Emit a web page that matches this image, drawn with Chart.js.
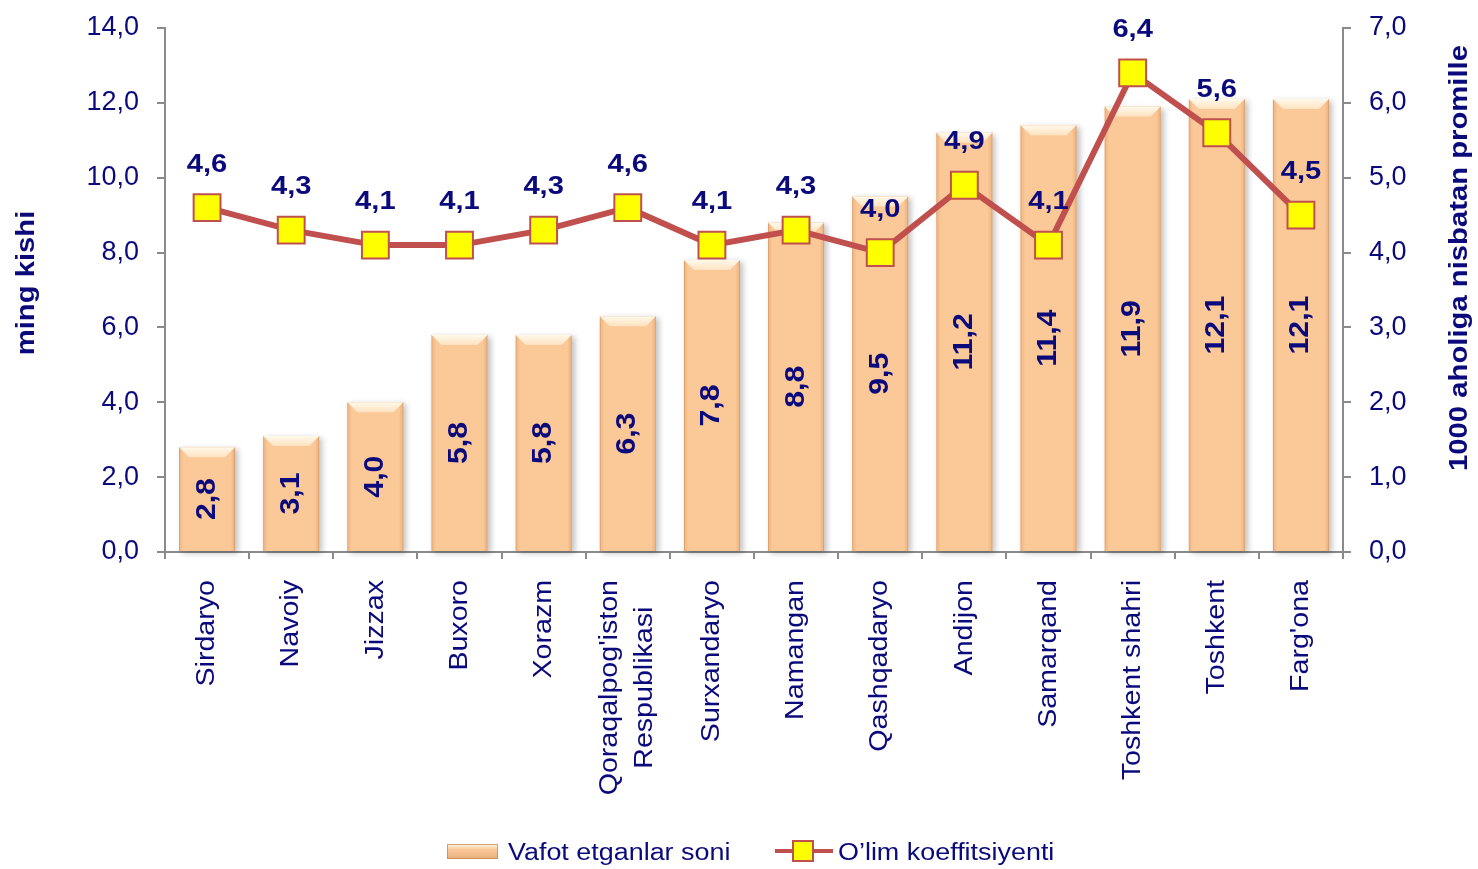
<!DOCTYPE html>
<html>
<head>
<meta charset="utf-8">
<script src="https://cdn.jsdelivr.net/npm/chart.js@4.4.1/dist/chart.umd.min.js"></script>
<style>
  html, body { margin: 0; padding: 0; background: #fff; }
  #wrap { width: 1478px; height: 869px; }
</style>
</head>
<body>
<div id="wrap"><canvas id="chart"></canvas></div>
<script>
// --- DATA ---
const regions = [
  'Sirdaryo', 'Navoiy', 'Jizzax', 'Buxoro', 'Xorazm',
  ["Qoraqalpog'iston", 'Respublikasi'],
  'Surxandaryo', 'Namangan', 'Qashqadaryo', 'Andijon',
  'Samarqand', 'Toshkent shahri', 'Toshkent', "Farg'ona"
];
const deaths = [2.8, 3.1, 4.0, 5.8, 5.8, 6.3, 7.8, 8.8, 9.5, 11.2, 11.4, 11.9, 12.1, 12.1];
const deathRate = [4.6, 4.3, 4.1, 4.1, 4.3, 4.6, 4.1, 4.3, 4.0, 4.9, 4.1, 6.4, 5.6, 4.5];

const leftMax = 14, leftStep = 2;
const rightMax = 7, rightStep = 1;

const seriesNames = ['Vafot etganlar soni', 'O\u2019lim koeffitsiyenti'];
const leftTitle = 'ming kishi';
const rightTitle = '1000 aholiga nisbatan promille';

// --- STYLE ---
const NAVY = '#0a0a7c';
const AXIS = '#8a8a8a';
const BAR = '#fbc898';
const LINE = '#c0504d';
const FONT = "'Liberation Sans', Arial, sans-serif";

const fmt = v => Number(v).toFixed(1).replace('.', ',');

// draw text rotated and horizontally stretched (the original font runs wide)
function putText(ctx, text, x, y, angle, font, sx, align) {
  ctx.save();
  ctx.translate(x, y);
  ctx.rotate(angle);
  ctx.scale(sx, 1);
  ctx.font = font;
  ctx.fillStyle = NAVY;
  ctx.textAlign = align || 'center';
  ctx.textBaseline = 'middle';
  ctx.fillText(text, 0, 0);
  ctx.restore();
}

function bevelBar(ctx, left, top, right, bottom) {
  const w = right - left;
  // side shading
  let g = ctx.createLinearGradient(left, 0, right, 0);
  g.addColorStop(0, 'rgba(205,140,85,0.35)');
  g.addColorStop(0.08, 'rgba(205,140,85,0)');
  g.addColorStop(0.92, 'rgba(205,140,85,0)');
  g.addColorStop(1, 'rgba(205,140,85,0.4)');
  ctx.fillStyle = g;
  ctx.fillRect(left, top, w, bottom - top);
  // top bevel
  const d = Math.min(10, (bottom - top) / 2);
  g = ctx.createLinearGradient(0, top, 0, top + d);
  g.addColorStop(0, '#fff9ea');
  g.addColorStop(1, '#fee2c0');
  ctx.fillStyle = g;
  ctx.beginPath();
  ctx.moveTo(left, top);
  ctx.lineTo(right, top);
  ctx.lineTo(right - d, top + d);
  ctx.lineTo(left + d, top + d);
  ctx.closePath();
  ctx.fill();
}

const decorPlugin = {
  id: 'decor',
  beforeDatasetDraw(chart, args) {
    if (args.index !== 0) return;
    const ctx = chart.ctx;
    ctx.save();
    ctx.shadowColor = 'rgba(0,0,0,0.25)';
    ctx.shadowBlur = 6;
    ctx.shadowOffsetX = 3;
    ctx.shadowOffsetY = 2;
    ctx.fillStyle = BAR;
    chart.getDatasetMeta(0).data.forEach(b => {
      ctx.fillRect(b.x - b.width / 2, b.y, b.width, b.base - b.y);
    });
    ctx.restore();
  },
  afterDatasetDraw(chart, args) {
    if (args.index !== 0) return;
    const ctx = chart.ctx;
    chart.getDatasetMeta(0).data.forEach((b, i) => {
      bevelBar(ctx, b.x - b.width / 2, b.y, b.x + b.width / 2, b.base);
      putText(ctx, fmt(deaths[i]), b.x, (b.y + b.base) / 2, -Math.PI / 2,
        'bold 27px ' + FONT, 1.12, 'center');
    });
  },
  afterDatasetsDraw(chart) {
    const ctx = chart.ctx;
    const area = chart.chartArea;

    // line value labels
    chart.getDatasetMeta(1).data.forEach((p, i) => {
      putText(ctx, fmt(deathRate[i]), p.x, p.y - 43, 0, 'bold 26px ' + FONT, 1.12, 'center');
    });

    // category labels, rotated, lines centred on each other
    const xs = chart.scales.x;
    regions.forEach((lab, i) => {
      const lines = Array.isArray(lab) ? lab : [lab];
      const cx = xs.getPixelForValue(i);
      ctx.font = '26px ' + FONT;
      const sx = 1.1;
      const maxW = Math.max(...lines.map(l => ctx.measureText(l).width)) * sx;
      const top = area.bottom + 28;
      const gap = 35;
      lines.forEach((l, k) => {
        const x = cx + (k - (lines.length - 1) / 2) * gap;
        putText(ctx, l, x, top + maxW / 2, -Math.PI / 2, '26px ' + FONT, sx, 'center');
      });
    });

    // axis titles
    const midY = (area.top + area.bottom) / 2;
    putText(ctx, leftTitle, 27, midY - 7, -Math.PI / 2, 'bold 25px ' + FONT, 1.17, 'center');
    putText(ctx, rightTitle, 1460, midY - 32, -Math.PI / 2, 'bold 25px ' + FONT, 1.17, 'center');

    // legend
    const ly = 853;
    let lx = 447;
    const g = ctx.createLinearGradient(0, ly - 9, 0, ly + 7);
    g.addColorStop(0, '#fff4e2');
    g.addColorStop(0.35, BAR);
    g.addColorStop(1, '#e6ad78');
    ctx.fillStyle = g;
    ctx.fillRect(lx, ly - 9, 51, 15);
    ctx.strokeStyle = 'rgba(190,130,80,0.7)';
    ctx.lineWidth = 1;
    ctx.strokeRect(lx + 0.5, ly - 8.5, 50, 14);
    putText(ctx, seriesNames[0], lx + 61, ly + 1, 0, '23px ' + FONT, 1.17, 'left');

    lx = 775;
    ctx.strokeStyle = LINE;
    ctx.lineWidth = 4;
    ctx.beginPath();
    ctx.moveTo(lx, ly - 2);
    ctx.lineTo(lx + 58, ly - 2);
    ctx.stroke();
    ctx.fillStyle = '#ffff00';
    ctx.fillRect(lx + 18, ly - 12, 20, 20);
    ctx.lineWidth = 2;
    ctx.strokeRect(lx + 18, ly - 12, 20, 20);
    putText(ctx, seriesNames[1], lx + 63, ly + 1, 0, '23px ' + FONT, 1.17, 'left');
  }
};

// fixed axis sizes so the plot area lands where the original has it
const fitV = w => s => { s.width = w; s.paddingTop = 0; s.paddingBottom = 0; };

const ctx = document.getElementById('chart').getContext('2d');
new Chart(ctx, {
  type: 'bar',
  data: {
    labels: regions,
    datasets: [
      {
        label: seriesNames[0],
        data: deaths,
        yAxisID: 'y',
        backgroundColor: BAR,
        borderColor: 'rgba(215,150,95,0.6)',
        borderWidth: 1,
        barPercentage: 0.666,
        categoryPercentage: 1,
        order: 1
      },
      {
        label: seriesNames[1],
        type: 'line',
        data: deathRate,
        yAxisID: 'y1',
        borderColor: LINE,
        borderWidth: 6,
        pointStyle: 'rect',
        pointRadius: 19,
        pointBackgroundColor: '#ffff00',
        pointBorderColor: LINE,
        pointBorderWidth: 2,
        tension: 0,
        order: 0
      }
    ]
  },
  options: {
    responsive: true,
    maintainAspectRatio: false,
    animation: false,
    layout: { padding: { top: 28, left: 0, right: 0, bottom: 0 } },
    plugins: { legend: { display: false }, tooltip: { enabled: false } },
    scales: {
      x: {
        ticks: { display: false },
        grid: { drawOnChartArea: false, drawTicks: true, tickLength: 7, color: AXIS, lineWidth: 2 },
        border: { color: AXIS, width: 2 },
        afterFit: s => { s.height = 317; s.paddingLeft = 0; s.paddingRight = 0; }
      },
      y: {
        position: 'left',
        min: 0, max: leftMax,
        ticks: { stepSize: leftStep, color: NAVY, padding: 18, font: { family: FONT, size: 27 }, callback: fmt },
        grid: { drawOnChartArea: false, tickLength: 8, color: AXIS, lineWidth: 2 },
        border: { color: AXIS, width: 2 },
        afterFit: fitV(165)
      },
      y1: {
        position: 'right',
        min: 0, max: rightMax,
        ticks: { stepSize: rightStep, color: NAVY, padding: 18, font: { family: FONT, size: 27 }, callback: fmt },
        grid: { drawOnChartArea: false, tickLength: 8, color: AXIS, lineWidth: 2 },
        border: { color: AXIS, width: 2 },
        afterFit: fitV(135)
      }
    }
  },
  plugins: [decorPlugin]
});
</script>
</body>
</html>
